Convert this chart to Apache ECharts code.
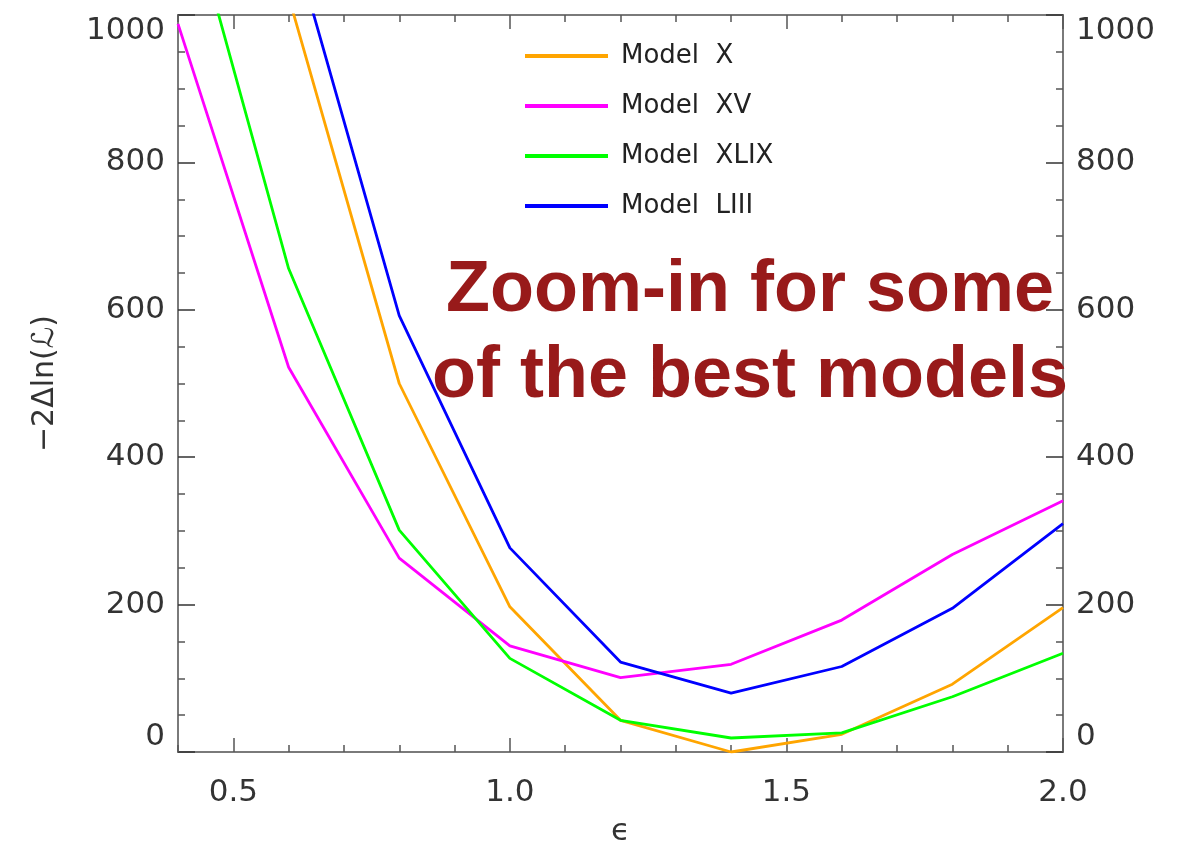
<!DOCTYPE html>
<html>
<head>
<meta charset="utf-8">
<script src="https://cdn.jsdelivr.net/npm/echarts@6/dist/echarts.min.js"></script>
<style>html,body{margin:0;padding:0;background:#fff}#c{width:1187px;height:852px}</style>
</head>
<body>
<div id="c"></div>
<script>
const eps = [0.4, 0.6, 0.8, 1.0, 1.2, 1.4, 1.6, 1.8, 2.0];
const seriesNames = ['Model  X', 'Model  XV', 'Model  XLIX', 'Model  LIII'];
const modelX    = [1900, 1025, 500, 197, 43, 0, 24, 92, 196];
const modelXV   = [988, 522, 263, 144, 101, 119, 179, 268, 341];
const modelXLIX = [1200, 656, 301, 127, 43, 19, 26, 75, 134];
const modelLIII = [1650, 1120, 592, 277, 122, 80, 116, 195, 310];
const colors = ['#FFA500', '#FF00FF', '#00FF00', '#0000FF'];
const xMajorTicks = [0.5, 1.0, 1.5, 2.0];
const yTicks = [0, 200, 400, 600, 800, 1000];
const note = ['Zoom-in for some', 'of the best models'];

const allData = [modelX, modelXV, modelXLIX, modelLIII];
const chart = echarts.init(document.getElementById('c'), null, {renderer: 'canvas'});
const axisLine = {show: true, lineStyle: {color: '#7a7a7a', width: 2}};
const tickFont = {fontFamily: 'DejaVu Sans', fontSize: 31, color: '#333'};
function xAx(pos, major, labels) {
  const a = {
    type: 'value', position: pos, min: 0.4, max: 2.0,
    axisLine: axisLine, splitLine: {show: false},
    axisTick: {show: true, inside: true, length: major ? 14 : 7, lineStyle: {color: '#555', width: 1.5}},
    axisLabel: {show: false}
  };
  if (major) {
    a.axisTick.customValues = xMajorTicks;
    a.axisLabel = {show: labels, customValues: xMajorTicks, margin: 25, formatter: v => v.toFixed(1), ...tickFont};
  } else {
    a.interval = 0.1;
  }
  return a;
}
function yAx(pos) {
  return {
    type: 'value', position: pos, min: 0, max: 1000, interval: 200,
    axisLine: axisLine, splitLine: {show: false},
    axisTick: {show: true, inside: true, length: 17, lineStyle: {color: '#333', width: 1.5}},
    minorTick: {show: true, splitNumber: 4, length: 7, lineStyle: {color: '#555', width: 1.5}},
    minorSplitLine: {show: false},
    axisLabel: {show: true, margin: 13, formatter: v => String(v),
      verticalAlignMinLabel: 'bottom', verticalAlignMaxLabel: 'top', ...tickFont},
    name: pos === 'left' ? '\u22122\u0394ln(\u2112)' : '',
    nameLocation: 'middle', nameGap: 118, nameRotate: 90,
    nameTextStyle: {fontFamily: 'DejaVu Sans', fontSize: 30, color: '#333'}
  };
}
const xaxes = [xAx('bottom', false, false), xAx('bottom', true, true), xAx('top', false, false), xAx('top', true, false)];
xaxes[0].name = '\u03F5';
xaxes[0].nameLocation = 'middle';
xaxes[0].nameGap = 64;
xaxes[0].nameTextStyle = {fontFamily: 'DejaVu Sans', fontSize: 31, color: '#333'};

chart.setOption({
  animation: false,
  backgroundColor: '#fff',
  grid: {left: 178, right: 124, top: 15, bottom: 94, containLabel: false},
  xAxis: xaxes,
  yAxis: [yAx('left'), yAx('right')],
  legend: {
    orient: 'vertical', left: 520, top: 38, itemGap: 24,
    icon: 'rect', itemWidth: 83, itemHeight: 4,
    data: seriesNames,
    textStyle: {fontFamily: 'DejaVu Sans', fontSize: 26, color: '#222', padding: [0, 0, 0, 8]}
  },
  series: allData.map((d, i) => ({
    name: seriesNames[i], type: 'line', xAxisIndex: 0, yAxisIndex: 0,
    data: eps.map((e, k) => [e, d[k]]),
    symbol: 'none', clip: true,
    lineStyle: {color: colors[i], width: 2.8}, itemStyle: {color: colors[i]}
  })),
  graphic: note.map((t, i) => ({
    type: 'text', x: 750, y: 291 + i * 86, z: 100,
    style: {text: t, fill: '#981a1a', font: 'bold 72px "Liberation Sans", Arial, sans-serif', textAlign: 'center', textVerticalAlign: 'middle'}
  }))
});
</script>
</body>
</html>
